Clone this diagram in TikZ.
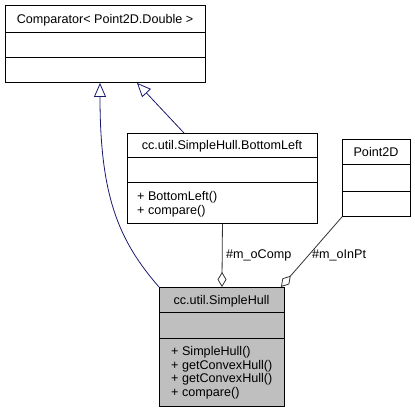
\documentclass[tikz,border=0pt]{standalone}
\usepackage{fontspec}
\setmainfont{Liberation Sans}
\usetikzlibrary{arrows.meta,calc}
\definecolor{edgeblue}{HTML}{191970}
\definecolor{hullgray}{HTML}{BFBFBF}
\begin{document}
\begin{tikzpicture}[x=1pt,y=-1pt,
  cell/.style={draw=black, line width=0.9pt, inner sep=0pt, anchor=north west},
  hullcell/.style={cell, fill=hullgray},
  title/.style={inner sep=0pt, anchor=base, font=\fontsize{12.6}{13.5}\selectfont},
  member/.style={inner sep=0pt, anchor=base west, font=\fontsize{12.6}{13.5}\selectfont},
  inh/.style={draw=edgeblue, line width=0.8pt, -{Triangle[open, length=14pt, width=12pt, line width=0.8pt]}},
  agg/.style={draw=black!80, line width=0.8pt, -{Diamond[open, length=15pt, width=9pt, line width=0.8pt]}}]
\useasboundingbox (0,0) rectangle (415,413);

% Comparator
\node[cell, minimum width=200pt, minimum height=27pt] (c1) at (5,5) {};
\node[cell, minimum width=200pt, minimum height=25pt] (c2) at (5,32) {};
\node[cell, minimum width=200pt, minimum height=25pt] (c3) at (5,57) {};
\node[title] (c1t) at (105,23) {Comparator< Point2D.Double >};

% BottomLeft
\node[cell, minimum width=190pt, minimum height=24pt] (b1) at (127,133) {};
\node[cell, minimum width=190pt, minimum height=25pt] (b2) at (127,157) {};
\node[cell, minimum width=190pt, minimum height=41pt] (b3) at (127,182) {};
\node[title] (b1t) at (222,149.5) {cc.util.SimpleHull.BottomLeft};
\node[member] (b3a) at (137,200.5) {+ BottomLeft()};
\node[member] (b3b) at (137,214) {+ compare()};

% Point2D
\node[cell, minimum width=68pt, minimum height=25pt] (p1) at (342,139) {};
\node[cell, minimum width=68pt, minimum height=27pt] (p2) at (342,164) {};
\node[cell, minimum width=68pt, minimum height=25pt] (p3) at (342,191) {};
\node[title] (p1t) at (376,156.5) {Point2D};

% SimpleHull
\node[hullcell, minimum width=125pt, minimum height=25pt] (h1) at (159,287) {};
\node[hullcell, minimum width=125pt, minimum height=26pt] (h2) at (159,312) {};
\node[hullcell, minimum width=125pt, minimum height=68pt] (h3) at (159,338) {};
\node[title] (h1t) at (221.5,304.5) {cc.util.SimpleHull};
\node[member] (h3a) at (171,355.5) {+ SimpleHull()};
\node[member] (h3b) at (171,369) {+ getConvexHull()};
\node[member] (h3c) at (171,382.5) {+ getConvexHull()};
\node[member] (h3d) at (171,396) {+ compare()};

% connector end points
\coordinate (cmpL) at ($(c3.south west)+(95,0)$);
\coordinate (cmpR) at ($(c3.south west)+(132,0)$);
\coordinate (blTop) at ($(b1.north west)+(57,0)$);
\coordinate (hullR) at ($(h1.north east)+(-4,0)$);

% inheritance
\draw[inh] (h1.north west) .. controls (118,240) and (100,195) .. (cmpL);
\draw[inh] (blTop) -- (cmpR);

% aggregation
\draw[agg] (b3.south) -- (h1.north);
\draw[agg] (p3.south west) -- (hullR);

\node[member] (l1) at (226,258.5) {\#m\_oComp};
\node[member] (l2) at (312,258.5) {\#m\_oInPt};
\end{tikzpicture}
\end{document}
